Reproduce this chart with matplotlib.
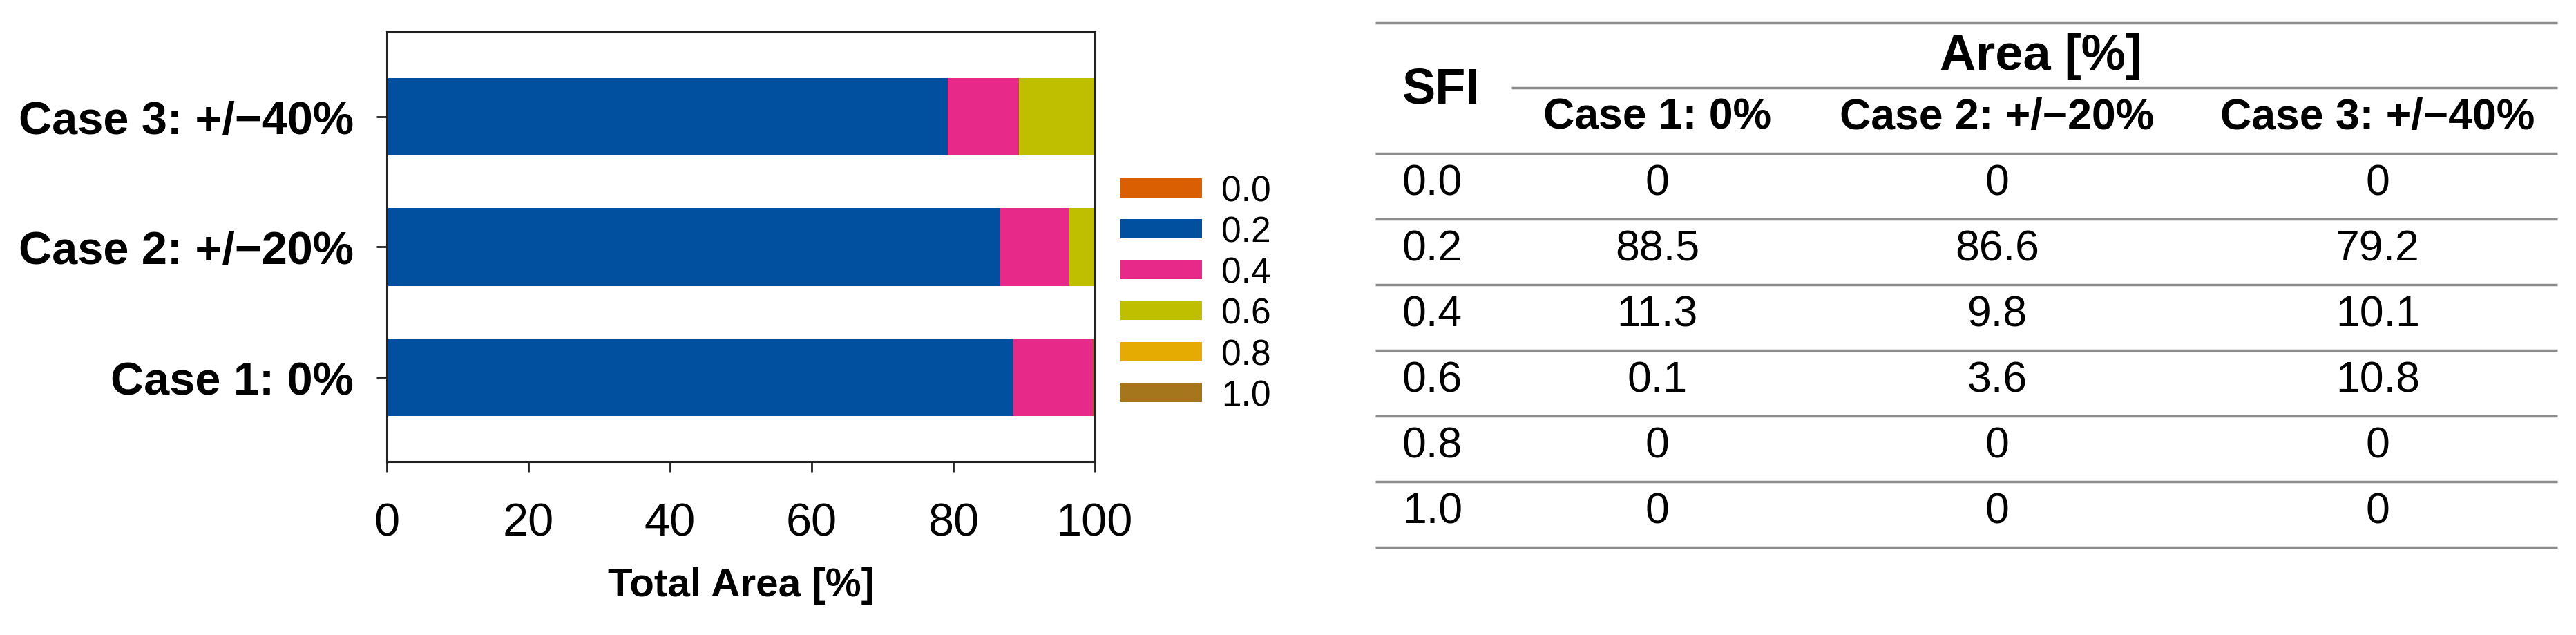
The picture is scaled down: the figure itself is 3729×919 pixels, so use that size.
import matplotlib
matplotlib.use('Agg')
import matplotlib.pyplot as plt
from matplotlib.patches import Patch

plt.rcParams['font.family'] = ['Liberation Sans', 'DejaVu Sans']

# --- data ---
cases = ['Case 1: 0%', 'Case 2: +/\u221220%', 'Case 3: +/\u221240%']
sfi_classes = ['0.0', '0.2', '0.4', '0.6', '0.8', '1.0']
colors = ['#D95F02', '#00509F', '#E7298A', '#BFBF00', '#E6AB02', '#A6761D']

# area [%] per SFI class, one list per case
case1 = [0, 88.5, 11.3, 0.1, 0, 0]
case2 = [0, 86.6, 9.8, 3.6, 0, 0]
case3 = [0, 79.2, 10.1, 10.8, 0, 0]
areas = [case1, case2, case3]

xticks = [0, 20, 40, 60, 80, 100]

W, H = 3729, 920
fig = plt.figure(figsize=(W / 100, H / 100), dpi=100)

# table drawn on a full-figure overlay in pixel coords
ax_t = fig.add_axes([0, 0, 1, 1])
ax_t.set_xlim(0, W)
ax_t.set_ylim(H, 0)
ax_t.axis('off')
ax_t.patch.set_visible(False)

# --- stacked bars ---
ax = fig.add_axes([560 / W, 1 - 669 / H, 1025 / W, 622 / H])
ypos = list(range(len(cases)))
left = [0.0] * len(cases)
for i, cls in enumerate(sfi_classes):
    vals = [a[i] for a in areas]
    ax.barh(ypos, vals, left=left, height=0.595, color=colors[i], linewidth=0)
    left = [l + v for l, v in zip(left, vals)]

ax.set_xlim(0, 100)
ax.set_ylim(-0.647, 2.652)
ax.set_xticks(xticks)
ax.set_yticks(ypos)
ax.set_yticklabels(cases, fontweight='bold')
for sp in ax.spines.values():
    sp.set_linewidth(2.2)
    sp.set_color('#222222')
ax.tick_params(axis='x', length=10.8, width=2, pad=31, labelsize=48, color='#222222')
ax.tick_params(axis='y', length=10.8, width=2, pad=24, labelsize=48, color='#222222')
ax.set_xlabel('Total Area [%]', fontsize=42, fontweight='bold', labelpad=23)

handles = [Patch(facecolor=c, label=l, linewidth=0) for c, l in zip(colors, sfi_classes)]
ax.legend(handles=handles, loc='upper left', bbox_to_anchor=(1622 / W, 1 - 253 / H),
          bbox_transform=fig.transFigure, frameon=False, fontsize=37,
          handlelength=2.29, handleheight=0.45, handletextpad=0.55,
          labelspacing=0.2, borderpad=0, borderaxespad=0)

# --- table ---
tl, tr = 1991, 3702
line_kw = dict(color='#8C8C8C', linewidth=2.5)
ax_t.hlines(34, tl, tr, **line_kw)
ax_t.hlines(128, 2188, tr, **line_kw)
hdr_bottom = 223
row_h = 95
for k in range(len(sfi_classes) + 1):
    ax_t.hlines(hdr_bottom + k * row_h, tl, tr, **line_kw)

col_x = [2399, 2891, 3442]
sfi_x = 2030
ax_t.text(sfi_x, 130, 'SFI', fontsize=52, fontweight='bold', ha='left', va='center')
ax_t.text(2955, 82, 'Area [%]', fontsize=52, fontweight='bold', ha='center', va='center')
for x, c in zip(col_x, cases):
    ax_t.text(x, 170, c, fontsize=45, fontweight='bold', ha='center', va='center')

for r, cls in enumerate(sfi_classes):
    yc = hdr_bottom + r * row_h + 43
    ax_t.text(sfi_x, yc, cls, fontsize=45, ha='left', va='center')
    for x, a in zip(col_x, areas):
        v = a[r]
        s = '0' if v == 0 else f'{v:.1f}'
        ax_t.text(x, yc, s, fontsize=45, ha='center', va='center')

fig.savefig('out.png', dpi=100)
